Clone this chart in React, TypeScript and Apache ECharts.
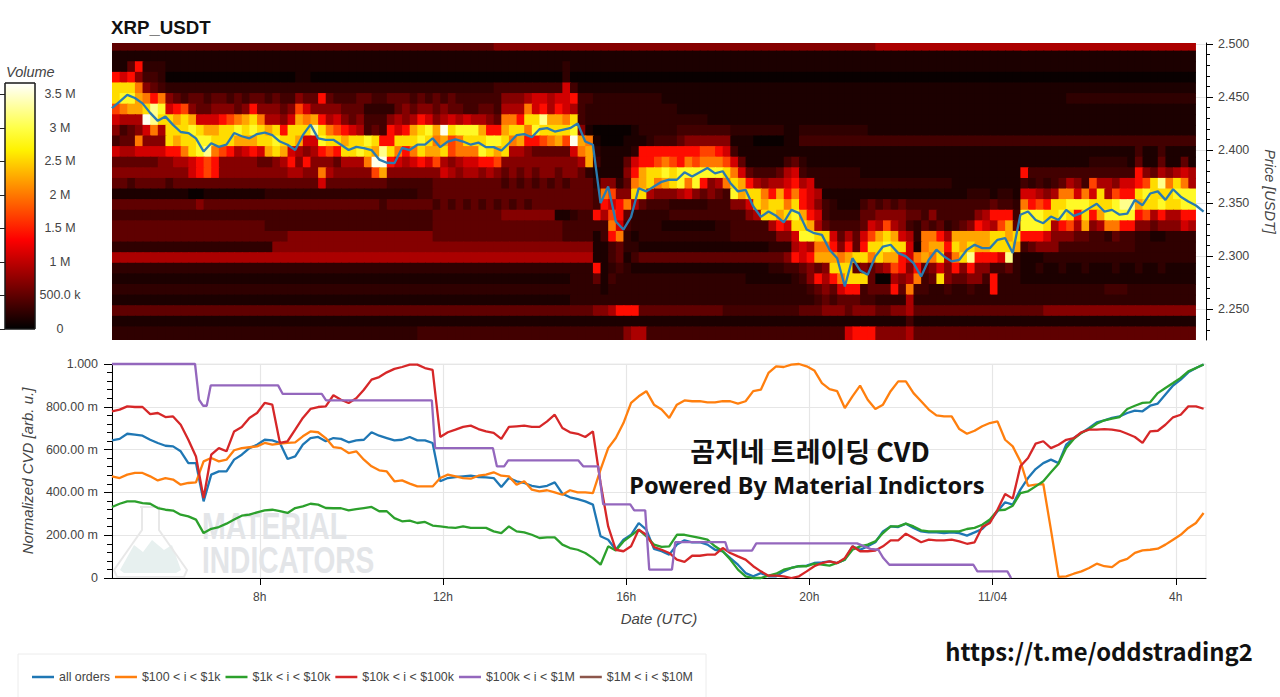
import React, { useEffect, useRef } from "react";
import * as echarts from "echarts";

// ---- time base: hours since 00:00 of 11/03; one sample every 10 minutes
const startHour = 4.774;
const endHour = 28.66;
const stepHour = 1 / 6;
const timeTicks = [8, 12, 16, 20, 24, 28];
const timeLabels = ["8h", "12h", "16h", "20h", "11/04", "4h"];

// ---- price panel
const priceTicks = [2.25, 2.3, 2.35, 2.4, 2.45, 2.5];
const priceMin = 2.2209;
const priceMax = 2.5009;
const priceLine = [
  2.4394, 2.4457, 2.452, 2.449, 2.444, 2.435, 2.4275, 2.4315, 2.4237, 2.417,
  2.416, 2.411, 2.3986, 2.4064, 2.403, 2.405, 2.416, 2.413, 2.411, 2.415,
  2.4165, 2.414, 2.408, 2.405, 2.4, 2.414, 2.424, 2.411, 2.4096, 2.4096,
  2.405, 2.4, 2.403, 2.4017, 2.4, 2.391, 2.388, 2.3876, 2.402, 2.4,
  2.405, 2.405, 2.411, 2.4027, 2.408, 2.41, 2.408, 2.405, 2.407, 2.4027,
  2.4027, 2.3995, 2.4064, 2.414, 2.415, 2.412, 2.4196, 2.4206, 2.4174, 2.419,
  2.4206, 2.425, 2.408, 2.405, 2.35, 2.3656, 2.3326, 2.325, 2.337, 2.364,
  2.361, 2.3656, 2.37, 2.372, 2.372, 2.379, 2.375, 2.379, 2.383, 2.378,
  2.38, 2.369, 2.361, 2.3625, 2.347, 2.337, 2.342, 2.338, 2.3317, 2.3436,
  2.3405, 2.325, 2.3216, 2.32, 2.306, 2.298, 2.2714, 2.298, 2.2865, 2.2824,
  2.2997, 2.309, 2.3107, 2.3028, 2.2997, 2.2934, 2.2808, 2.2965, 2.306, 2.2997,
  2.295, 2.2965, 2.306, 2.3107, 2.3075, 2.3075, 2.3154, 2.317, 2.303, 2.339,
  2.342, 2.334, 2.331, 2.3373, 2.334, 2.3436, 2.338, 2.3405, 2.345, 2.3493,
  2.342, 2.3436, 2.339, 2.34, 2.353, 2.348, 2.359, 2.361, 2.353, 2.363,
  2.356, 2.3515, 2.3477, 2.342,
];

// upper edge of the first heat row is the axis top; the last row is a taller one
const rowEdges = [
  2.5009, 2.4937, 2.4837, 2.4737, 2.4637, 2.4537, 2.4437, 2.4337, 2.4237, 2.4137,
  2.4037, 2.3937, 2.3837, 2.3737, 2.3637, 2.3537, 2.3437, 2.3337, 2.3237, 2.3137,
  2.3037, 2.2937, 2.2837, 2.2737, 2.2637, 2.2537, 2.2437, 2.2337, 2.2209,
];

// one character per 10-minute cell, volume
const volumeLevels: Record<string, number> = {
  "0": 0.05e6, "1": 0.15e6, "2": 0.25e6, "3": 0.35e6, "4": 0.5e6, "5": 0.7e6, "6": 0.9e6, "7": 1.1e6,
  "8": 1.4e6, "9": 1.7e6, A: 2.0e6, B: 2.25e6, C: 2.55e6, D: 2.85e6, E: 3.25e6, F: 3.6e6,
};
const heatRows = [
  "4444444444 4444444444 4444444444 4444444444 4444444444 5555555555 5555555555 5555555555 5555555555 5555555555 6666666666 6666666666 6666666666 6666666666 66",
  "1111111111 1111111111 1111111111 1111111111 1111111111 1111111111 1111111111 1111111111 1111111111 1111111111 1111111111 1111111111 1111111111 1111111111 11",
  "1148222111 1111111111 1111111111 1111111111 1111111111 1111111112 1111111111 1111111111 1111111111 1111111111 1111111111 1111111111 1111111111 1111111111 11",
  "8785332000 0000000000 0000110000 0000000000 0000000000 0000000002 0000000000 0000000000 0000000000 0000000000 0000000000 0000000000 0000000000 0000000000 00",
  "CCCA543222 2222222222 2222222222 2222222222 2222222222 3333333337 3111111111 1111111111 1111111111 1111111111 1111111111 1111111111 1111111111 1111111111 11",
  "CDDBA8A543 4434434344 3433544843 3344334443 4343433333 3555677677 8332222222 2211111111 1111111111 1111111111 1111111111 1111111111 1111122222 2222222222 22",
  "9ABBCED789 5445554585 5545975555 4442222454 5545443344 3666A78687 6322222222 2222111111 1111111111 1111111111 1111111111 1111111111 1111111111 1111111111 11",
  "7666FECCBC B77789ABCA 6657BAB867 5453335656 8756767665 4AA8CCEBBA C322222222 2222222211 1111111111 1111111111 1111111111 1111111111 1111111111 1111111111 11",
  "53457A6CCC DCBBCCDCDC BC8CCCECA9 876343878B CDBFCDDDB8 8BCCADCCCC D510000012 2222333333 3222222211 2222222221 1111111111 1111111111 1111111111 1111111111 11",
  "344A555CBC CDDCCCBBBC CDCCB77DCC BCCDC88CCC DCAB9ACCCD DCAB889AB9 FBA1000111 2333455555 5111000011 3333333333 3333333333 3333333333 3333333333 3333333333 33",
  "766777788A CDEA986787 BCB7656898 CCDCBECA8A CBBC9AAADC BC66544444 7AB2111128 8888888998 7311111111 1111111111 1111111111 1111111111 1111111111 1111311311 11",
  "4444445566 7898555554 4568585554 666AFF8767 8796567788 9555555555 56B3111478 89A98A9AAA 9741111134 2111111111 1111111111 1111111111 1111111122 2221411411 41",
  "5555555555 7898555555 5556655A65 55559B5555 5557656656 5454545545 542111158B CCDCDDDDDD CA74333467 3222222211 1111111111 1111111118 3333333333 3333854656 76",
  "4434444344 4444444444 4444444744 4444443333 3344444444 4343434343 44425524AB CABCDAD856 ACB8656678 6722222222 2222222222 1111111113 2323465396 657789CEAC A6",
  "1111111111 0011111111 2222222222 2222222222 3344444444 4444444444 4443A955CC 6555675454 3DBCCA8B8A 8761111111 1111111111 1122212217 7656AA7A7C 6988CDCCCD DD",
  "4444444444 4544444444 4444444444 4444434444 4434343434 3434344444 4443878A64 3332222233 3557CBCCAC 8753211134 3434333333 333334332A 898CCDDDCC CDEEBCCDCC DD",
  "3333333333 3333333333 3333333333 3333333333 3344444444 4555555511 2338698422 2223333333 33356CCBCD B873222244 5555443533 333568883D DDCCDC8C8B DDDD896866 88",
  "4444444444 4444444444 3333333333 3333333333 3344444444 4444444443 33333A7322 2211111112 233333687C CB64333347 6965324342 3458769B4D DDC6896B56 AA88554555 76",
  "4444444444 4444444444 4445555555 5555555555 5544444444 4444444443 333138A212 2222222222 2333333557 DDCC746479 BCB762AA86 BBBBBCCBC8 8875554433 2433221122 22",
  "2222222222 2222222222 2555555555 5555555555 5555555555 5555555555 5551134221 1111111111 1111112226 76AA85848C CDCC71ABB8 CBCBBCCCB3 4555333333 3333222222 22",
  "6666666666 6666666666 6666666666 6666666666 6666666666 6666666666 6661134134 4444444444 4444444458 78BBBABCCA CBB87ABAC6 ACE8887E21 1122222222 2222222222 22",
  "2222222222 2222222222 2222222222 2222222222 2222222222 2222222222 2228123211 1111111111 1111112233 4545CCC454 5698584575 8585533421 1211211211 1211211211 11",
  "1111111111 1111111111 1111111111 1111111111 1111111111 1111111111 2224132222 2222222222 2221111112 35868ACCC4 00656A34C5 4455382221 1111111111 1111111111 11",
  "2222222222 2222222222 2222222222 2222222222 2222222222 2222222222 2222122222 2222222222 2222222222 2345478834 4484A33223 2232282222 2222222222 3332222222 22",
  "1111111111 1111111111 1111111111 1111111111 1111111111 1111111111 2222222222 2222222222 2222222222 2234344433 2222622222 2222222222 2222222222 2222222222 22",
  "4444444444 4444444444 4444444444 4444444444 4444444444 4444444444 4445568884 4444444444 3333333333 4445554555 4455644444 4444444444 4455555555 5555555555 55",
  "1111111111 1111111111 1111111111 1111111111 1111111111 1111111111 1111111111 1111111111 1111111111 1111111111 1111311111 1111111111 1111111111 1111111111 11",
  "2222222222 2222222222 2222222222 2222222222 3333333333 3333333333 3333333566 3333333333 3333333333 3333337888 5555644444 4444444444 4444444444 4444444444 44",
];

// ---- CVD panel, milli-units (arb. u.) every 10 minutes
const allOrders = [
  643, 650, 674, 670, 665, 646, 631, 618, 615, 592, 537, 537, 358, 483, 498, 498, 553, 576, 607, 623,
  646, 643, 631, 556, 568, 623, 654, 659, 639, 654, 650, 634, 643, 646, 681, 665, 654, 643, 646, 659,
  643, 643, 631, 452, 467, 472, 475, 478, 472, 470, 467, 425, 467, 452, 444, 431, 425, 431, 447, 394,
  377, 369, 358, 343, 195, 179, 132, 179, 202, 257, 226, 136, 125, 109, 156, 176, 167, 167, 156, 132,
  125, 93, 62, 23, 8, 23, 8, 8, 31, 47, 55, 58, 70, 73, 78, 70, 86, 148, 132, 148,
  167, 218, 241, 238, 254, 234, 218, 213, 213, 210, 213, 210, 198, 213, 229, 265, 312, 354, 343, 413,
  467, 509, 537, 553, 537, 623, 654, 678, 701, 727, 737, 748, 755, 771, 782, 779, 805, 815, 857, 899,
  927, 961, 981, 998,
];
const band100to1k = [
  475, 467, 483, 491, 491, 475, 456, 467, 460, 436, 444, 447, 545, 561, 545, 553, 597, 607, 611, 615,
  631, 623, 628, 631, 634, 662, 685, 681, 654, 612, 607, 584, 592, 553, 522, 503, 498, 452, 456, 441,
  428, 428, 428, 467, 483, 475, 467, 464, 478, 483, 494, 478, 475, 436, 452, 413, 405, 410, 400, 389,
  410, 400, 400, 397, 506, 607, 654, 724, 818, 849, 873, 810, 787, 748, 810, 830, 826, 826, 821, 821,
  826, 826, 815, 826, 873, 880, 958, 989, 986, 997, 1000, 989, 970, 911, 883, 873, 794, 849, 899, 833,
  790, 810, 873, 919, 919, 864, 826, 787, 760, 755, 755, 696, 674, 688, 709, 724, 732, 646, 615, 545,
  431, 436, 439, 226, 5, 8, 20, 31, 47, 67, 55, 51, 78, 89, 117, 129, 132, 137, 156, 179,
  202, 234, 257, 304,
];
const band1kto10k = [
  332, 347, 358, 358, 350, 347, 327, 319, 315, 296, 288, 273, 210, 230, 238, 254, 273, 291, 296, 307,
  316, 319, 312, 304, 327, 335, 347, 343, 327, 326, 326, 316, 322, 327, 332, 312, 312, 280, 265, 268,
  257, 262, 245, 241, 237, 234, 241, 234, 234, 234, 218, 210, 241, 218, 213, 202, 187, 190, 190, 156,
  140, 132, 117, 93, 62, 148, 129, 171, 198, 226, 195, 156, 145, 148, 202, 202, 195, 187, 179, 148,
  125, 86, 39, 8, 0, 0, 11, 20, 39, 47, 55, 55, 67, 62, 58, 70, 86, 132, 148, 156,
  171, 210, 241, 241, 254, 241, 223, 218, 218, 218, 218, 218, 229, 234, 249, 273, 316, 319, 338, 397,
  405, 428, 452, 494, 534, 607, 650, 678, 696, 721, 737, 745, 752, 790, 805, 818, 821, 864, 888, 911,
  935, 966, 981, 998,
];
const band10kto100k = [
  779, 787, 802, 799, 799, 766, 771, 752, 755, 716, 646, 568, 374, 576, 607, 592, 685, 706, 748, 771,
  818, 810, 631, 639, 693, 748, 790, 799, 802, 854, 833, 818, 840, 880, 927, 939, 961, 977, 986, 997,
  997, 981, 973, 659, 681, 693, 706, 712, 696, 685, 678, 650, 706, 709, 712, 706, 706, 732, 763, 701,
  681, 674, 659, 685, 444, 241, 132, 125, 148, 226, 202, 145, 132, 117, 86, 75, 104, 104, 109, 109,
  140, 117, 101, 86, 55, 31, 11, 11, 8, 0, 8, 31, 55, 70, 78, 70, 93, 148, 125, 125,
  128, 148, 176, 176, 207, 187, 167, 179, 176, 176, 179, 171, 160, 167, 238, 257, 319, 393, 371, 522,
  561, 628, 639, 607, 623, 646, 654, 681, 693, 693, 696, 693, 688, 674, 659, 631, 685, 688, 716, 751,
  763, 802, 802, 791,
];
const band100kto1MHours = [
  4.774, 6.587, 6.674, 6.761, 6.842, 6.93, 8.4, 8.502, 9.354, 9.448, 11.757, 11.829, 13.09, 13.177, 13.336,
  13.424, 14.953, 15.062, 15.39, 15.499, 16.089, 16.176, 16.416, 16.504, 17.0, 17.072, 18.164, 18.223, 18.747,
  18.841, 21.041, 21.331, 21.506, 21.615, 21.746, 23.581, 23.668, 24.323, 24.404,
];
const band100kto1MValues = [
  1000, 1000, 833, 805, 805, 900, 900, 860, 860, 830, 830, 607, 607, 522, 522,
  550, 550, 522, 522, 344, 344, 316, 316, 39, 39, 168, 168, 128, 128,
  162, 162, 136, 132, 93, 62, 62, 31, 31, 0,
];
// the $1M..$10M band draws no visible line in the picture, only its legend entry
const band1Mto10MHours: number[] = [];
const band1Mto10MValues: number[] = [];
const cvdTicks = [0, 200, 400, 600, 800, 1000];

// ---- colour bar
const volumeTicks = [0, 0.5e6, 1e6, 1.5e6, 2e6, 2.5e6, 3e6, 3.5e6];
const volumeMax = 3.67e6;
const hotColors = [
  "#000000", "#3f0000", "#7f0000", "#be0000", "#fe0000", "#ff3c00",
  "#ff7800", "#ffb500", "#fff200", "#ffff48", "#ffffa3", "#ffffff",
];

const seriesNames = ["all orders", "$100 < i < $1k", "$1k < i < $10k", "$10k < i < $100k", "$100k < i < $1M", "$1M < i < $10M"];
const seriesColors = ["#1f77b4", "#ff7f0e", "#2ca02c", "#d62728", "#9467bd", "#8c564b"];

const sans = "'Liberation Sans', Arial, sans-serif";
const kr = "'Noto Sans CJK KR', sans-serif";
const labelColor = "#444444";

function hoursOf(i: number) {
  return startHour + i * stepHour;
}

function buildHeat() {
  const cells: number[][] = [];
  heatRows.forEach((row, r) => {
    const chars = row.replace(/ /g, "");
    for (let c = 0; c < 142; c++) {
      const ch = chars[Math.min(c, chars.length - 1)];
      cells.push([hoursOf(c), hoursOf(c + 1), rowEdges[r + 1], rowEdges[r], volumeLevels[ch]]);
    }
  });
  return cells;
}

function numbersBetween(from: number, to: number, step: number) {
  const out: number[] = [];
  for (let i = 0; from + i * step <= to + 1e-9; i++) out.push(+(from + i * step).toFixed(4));
  return out;
}

export default function App() {
  const ref = useRef<HTMLDivElement>(null);
  useEffect(() => {
    document.body.style.margin = "0";
    const chart = echarts.init(ref.current!, undefined, { renderer: "svg", width: 1280, height: 697 });
    const cvdSeries = [allOrders, band100to1k, band1kto10k, band10kto100k].map((vals, i) => ({
      name: seriesNames[i],
      type: "line",
      xAxisIndex: 1,
      yAxisIndex: 2,
      symbol: "none",
      clip: false,
      z: 4,
      lineStyle: { color: seriesColors[i], width: 2.3 },
      itemStyle: { color: seriesColors[i] },
      data: vals.map((v, k) => [hoursOf(k), v]),
    }));
    const stepSeries = [
      [band100kto1MHours, band100kto1MValues, 4],
      [band1Mto10MHours, band1Mto10MValues, 5],
    ].map(([hours, vals, i]: any) => ({
      name: seriesNames[i],
      type: "line",
      xAxisIndex: 1,
      yAxisIndex: 2,
      symbol: "none",
      clip: false,
      z: 4,
      lineStyle: { color: seriesColors[i], width: 2.3 },
      itemStyle: { color: seriesColors[i] },
      data: hours.map((h: number, k: number) => [h, vals[k]]),
    }));

    chart.setOption({
      animation: false,
      backgroundColor: "#ffffff",
      textStyle: { fontFamily: sans },
      title: {
        text: "XRP_USDT",
        left: 111,
        top: 18,
        padding: 0,
        textStyle: { fontFamily: sans, fontSize: 18.7, fontWeight: "bold", color: "#111111" },
      },
      grid: [
        { left: 112, top: 43, width: 1094, height: 297, containLabel: false, outerBoundsMode: "none" },
        { left: 112, top: 364, width: 1094, height: 214, show: true, borderColor: "#ebebeb", backgroundColor: "transparent", outerBoundsMode: "none" },
        {
          left: 5,
          top: 83,
          width: 30,
          height: 246,
          show: true,
          borderColor: "#000000",
          borderWidth: 1,
          outerBoundsMode: "none",
          backgroundColor: new echarts.graphic.LinearGradient(
            0, 1, 0, 0,
            hotColors.map((color, i) => ({ offset: i / (hotColors.length - 1), color }))
          ),
        },
      ],
      xAxis: [
        { gridIndex: 0, type: "value", min: startHour, max: endHour, show: false },
        {
          gridIndex: 1,
          type: "value",
          min: startHour,
          max: endHour,
          position: "bottom",
          name: "Date (UTC)",
          nameLocation: "middle",
          nameGap: 33,
          nameTextStyle: { fontFamily: sans, fontSize: 15, fontStyle: "italic", color: labelColor },
          axisLine: { onZero: false, lineStyle: { color: "#000000", width: 1 } },
          axisTick: { show: true, length: 7, inside: false, customValues: timeTicks, lineStyle: { color: "#000000" } },
          axisLabel: {
            customValues: timeTicks,
            margin: 13,
            fontSize: 12,
            color: labelColor,
            fontFamily: sans,
            formatter: (v: number) => timeLabels[timeTicks.indexOf(v)] ?? "",
          },
          splitLine: { show: true, lineStyle: { color: "#e6e6e6", width: 1.2 } },
        },
        { gridIndex: 2, type: "value", min: 0, max: 1, show: false },
      ],
      yAxis: [
        {
          gridIndex: 0,
          type: "value",
          position: "right",
          min: priceMin,
          max: priceMax,
          name: "Price [USDT]",
          nameLocation: "middle",
          nameRotate: -90,
          nameGap: 56,
          nameTextStyle: { fontFamily: sans, fontSize: 14.5, fontStyle: "italic", color: labelColor },
          axisLine: { show: true, lineStyle: { color: "#000000" } },
          axisTick: { show: true, length: 7, customValues: priceTicks, lineStyle: { color: "#000000" } },
          axisLabel: {
            customValues: priceTicks,
            margin: 12,
            fontSize: 12.5,
            color: labelColor,
            fontFamily: sans,
            formatter: (v: number) => v.toFixed(3),
          },
          splitLine: { show: true, lineStyle: { color: "#e6e6e6", width: 1.2 } },
        },
        {
          gridIndex: 0,
          type: "value",
          position: "right",
          min: priceMin,
          max: priceMax,
          axisLine: { show: false },
          axisTick: { show: true, length: 4, customValues: numbersBetween(2.23, 2.49, 0.01), lineStyle: { color: "#000000" } },
          axisLabel: { show: false },
          splitLine: { show: false },
        },
        {
          gridIndex: 1,
          type: "value",
          position: "left",
          min: 0,
          max: 1000,
          name: "Normalized CVD [arb. u.]",
          nameLocation: "middle",
          nameRotate: 90,
          nameGap: 77,
          nameTextStyle: { fontFamily: sans, fontSize: 15, fontStyle: "italic", color: labelColor },
          axisLine: { show: true, lineStyle: { color: "#000000" } },
          axisTick: { show: true, length: 8, customValues: cvdTicks, lineStyle: { color: "#000000" } },
          axisLabel: {
            customValues: cvdTicks,
            margin: 14,
            fontSize: 12.5,
            color: labelColor,
            fontFamily: sans,
            formatter: (v: number) => (v === 1000 ? "1.000" : v === 0 ? "0" : `${v}.00 m`),
          },
          splitLine: { show: true, lineStyle: { color: "#e6e6e6", width: 1.2 } },
        },
        {
          gridIndex: 1,
          type: "value",
          position: "left",
          min: 0,
          max: 1000,
          axisLine: { show: false },
          axisTick: { show: true, length: 5, customValues: numbersBetween(40, 960, 40), lineStyle: { color: "#000000" } },
          axisLabel: { show: false },
          splitLine: { show: false },
        },
        {
          gridIndex: 2,
          type: "value",
          position: "right",
          min: 0,
          max: volumeMax,
          axisLine: { show: false },
          axisTick: { show: true, inside: true, length: 5, customValues: volumeTicks, lineStyle: { color: "#222222" } },
          axisLabel: {
            customValues: volumeTicks,
            align: "center",
            margin: 25,
            fontSize: 12.5,
            color: labelColor,
            fontFamily: sans,
            formatter: (v: number) => (v === 0 ? "0" : v === 0.5e6 ? "500.0 k" : `${v / 1e6} M`),
          },
          splitLine: { show: false },
        },
      ],
      visualMap: {
        show: false,
        type: "continuous",
        seriesIndex: 0,
        dimension: 4,
        min: 0,
        max: volumeMax,
        inRange: { color: hotColors },
      },
      legend: {
        left: 32,
        top: 671,
        padding: 0,
        icon: "rect",
        itemWidth: 22,
        itemHeight: 2.5,
        itemGap: 5,
        data: seriesNames,
        textStyle: { fontFamily: sans, fontSize: 12.4, color: labelColor },
      },
      series: [
        {
          name: "volume",
          type: "custom",
          xAxisIndex: 0,
          yAxisIndex: 0,
          progressive: 0,
          silent: true,
          clip: false,
          z: 2,
          encode: { x: [0, 1], y: [2, 3] },
          data: buildHeat(),
          renderItem: (_: any, api: any) => {
            const a = api.coord([api.value(0), api.value(3)]);
            const b = api.coord([api.value(1), api.value(2)]);
            const bottom = api.value(2) <= priceMin + 1e-6 ? 0 : 1;
            const right = api.value(1) >= hoursOf(142) - 1e-6 ? 0 : 1;
            return {
              type: "rect",
              shape: { x: a[0], y: a[1], width: b[0] - a[0] + right, height: b[1] - a[1] + bottom },
              style: { fill: api.visual("color") },
            };
          },
        },
        {
          name: "price",
          type: "line",
          xAxisIndex: 0,
          yAxisIndex: 0,
          symbol: "none",
          z: 5,
          lineStyle: { color: "#2a7bb0", width: 2.3 },
          data: priceLine.map((p, k) => [hoursOf(k), p]),
        },
        ...cvdSeries,
        ...stepSeries,
      ],
      graphic: [
        {
          type: "text",
          left: 6,
          top: 64,
          style: { text: "Volume", fontFamily: sans, fontSize: 14.5, fontStyle: "italic", fill: labelColor },
        },
        {
          type: "rect",
          z: 6,
          shape: { x: 5, y: 83, width: 30, height: 246 },
          style: { fill: "none", stroke: "#222222", lineWidth: 1 },
        },
        {
          type: "rect",
          z: -1,
          shape: { x: 18, y: 654, width: 688, height: 60 },
          style: { fill: "#ffffff", stroke: "#ececec", lineWidth: 1 },
        },
        // watermark
        {
          type: "polygon",
          z: 1,
          shape: { points: [[120, 570], [134, 545], [143, 552], [152, 540], [164, 550], [172, 545], [181, 570], [176, 573], [124, 573]] },
          style: { fill: "#e7f0ef" },
        },
        {
          type: "polyline",
          z: 1,
          shape: { points: [[142, 507], [142, 530], [114, 570], [117, 577], [184, 577], [187, 570], [159, 530], [159, 507], [140, 507]] },
          style: { stroke: "#e8e8e8", lineWidth: 2, fill: "none" },
        },
        {
          type: "text",
          z: 1,
          x: 202,
          y: 508,
          scaleX: 0.77,
          style: { text: "MATERIAL", fontFamily: sans, fontSize: 37, fontWeight: "bold", fill: "#e3e5e8" },
        },
        {
          type: "text",
          z: 1,
          x: 202,
          y: 542,
          scaleX: 0.76,
          style: { text: "INDICATORS", fontFamily: sans, fontSize: 37, fontWeight: "bold", fill: "#e3e5e8" },
        },
        // overlay captions
        {
          type: "text",
          z: 50,
          x: 810,
          y: 450,
          style: { text: "곰지네 트레이딩 CVD", fontFamily: kr, fontSize: 27, fontWeight: "bold", fill: "#111111", align: "center", verticalAlign: "middle" },
        },
        {
          type: "text",
          z: 50,
          x: 807,
          y: 485,
          style: { text: "Powered By Material Indictors", fontFamily: "'Noto Sans', sans-serif", fontSize: 23.6, fontWeight: "bold", fill: "#111111", align: "center", verticalAlign: "middle" },
        },
        {
          type: "text",
          z: 50,
          x: 1099,
          y: 650,
          style: { text: "https://t.me/oddstrading2", fontFamily: kr, fontSize: 23.8, fontWeight: "bold", fill: "#111111", align: "center", verticalAlign: "middle" },
        },
      ],
    });
    return () => chart.dispose();
  }, []);
  return <div ref={ref} style={{ position: "absolute", left: 0, top: 0, width: 1280, height: 697 }} />;
}
